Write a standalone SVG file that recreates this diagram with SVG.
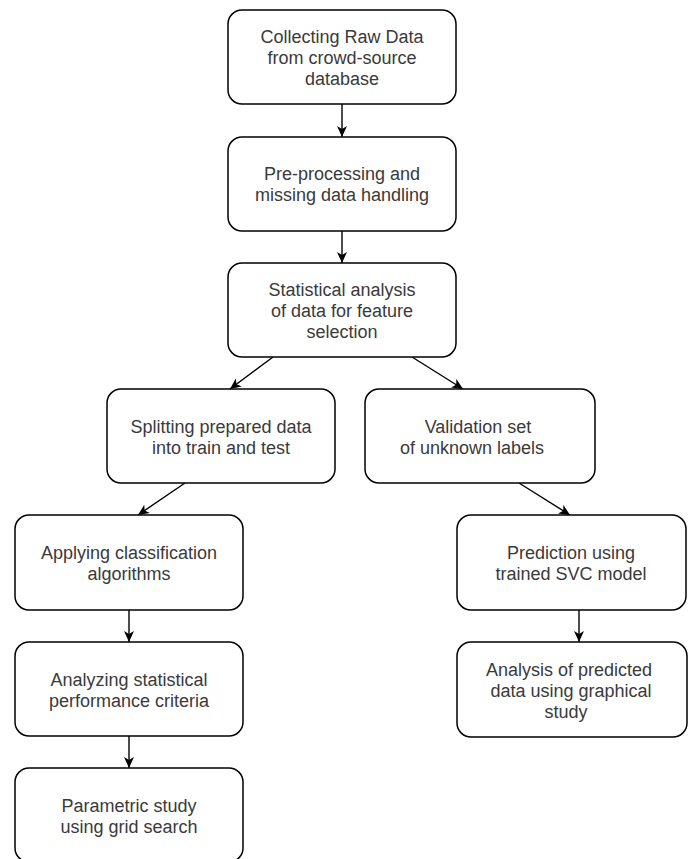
<svg xmlns="http://www.w3.org/2000/svg" width="693" height="859" viewBox="0 0 693 859">
<defs>
<style>
.box{fill:#fff;stroke:#000;stroke-width:1.5}
.t{font-family:"Liberation Sans",Arial,sans-serif;font-size:18px;fill:#3a3a3a;text-anchor:middle}
.c{stroke:#000;stroke-width:1.4;fill:none;marker-end:url(#ah)}
</style>
<marker id="ah" markerUnits="userSpaceOnUse" markerWidth="12" markerHeight="10" refX="11" refY="5" orient="auto">
<path d="M0,0 L11,5 L0,10 L3,5 Z" fill="#000"/>
</marker>
</defs>
<rect width="693" height="859" fill="#fff"/>
<g id="connectors">
<line class="c" x1="342" y1="104" x2="342" y2="137"/>
<line class="c" x1="342" y1="231" x2="342" y2="263"/>
<line class="c" x1="273" y1="357" x2="230" y2="389"/>
<line class="c" x1="412" y1="357" x2="463" y2="389"/>
<line class="c" x1="185" y1="483" x2="138" y2="515"/>
<line class="c" x1="519" y1="483" x2="570" y2="515"/>
<line class="c" x1="129" y1="610" x2="129" y2="642"/>
<line class="c" x1="129" y1="736" x2="129" y2="768"/>
<line class="c" x1="579" y1="610" x2="579" y2="642"/>
</g>
<g id="n1"><rect class="box" x="228" y="10" width="228" height="94" rx="14"/>
<text class="t" x="342" y="43">Collecting Raw Data</text><text class="t" x="342" y="64">from crowd-source</text><text class="t" x="342" y="85">database</text></g>
<g id="n2"><rect class="box" x="228" y="137" width="228" height="94" rx="14"/>
<text class="t" x="342" y="180">Pre-processing and</text><text class="t" x="342" y="201">missing data handling</text></g>
<g id="n3"><rect class="box" x="228" y="263" width="228" height="94" rx="14"/>
<text class="t" x="342" y="296">Statistical analysis</text><text class="t" x="342" y="317">of data for feature</text><text class="t" x="342" y="338">selection</text></g>
<g id="n4"><rect class="box" x="107" y="389" width="228" height="94" rx="14"/>
<text class="t" x="221" y="433">Splitting prepared data</text><text class="t" x="221" y="454">into train and test</text></g>
<g id="n5"><rect class="box" x="365" y="389" width="230" height="94" rx="14"/>
<text class="t" x="478" y="433">Validation set</text><text class="t" x="472" y="454">of unknown labels</text></g>
<g id="n6"><rect class="box" x="15" y="515" width="228" height="95" rx="14"/>
<text class="t" x="129" y="559">Applying classification</text><text class="t" x="129" y="580">algorithms</text></g>
<g id="n7"><rect class="box" x="457" y="515" width="229" height="95" rx="14"/>
<text class="t" x="571" y="559">Prediction using</text><text class="t" x="571" y="580">trained SVC model</text></g>
<g id="n8"><rect class="box" x="15" y="642" width="228" height="94" rx="14"/>
<text class="t" x="129" y="686">Analyzing statistical</text><text class="t" x="129" y="707">performance criteria</text></g>
<g id="n9"><rect class="box" x="457" y="642" width="230" height="95" rx="14"/>
<text class="t" x="569" y="676">Analysis of predicted</text><text class="t" x="571" y="697">data using graphical</text><text class="t" x="566" y="718">study</text></g>
<g id="n10"><rect class="box" x="15" y="768" width="228" height="94" rx="14"/>
<text class="t" x="129" y="812">Parametric study</text><text class="t" x="129" y="833">using grid search</text></g>
</svg>
